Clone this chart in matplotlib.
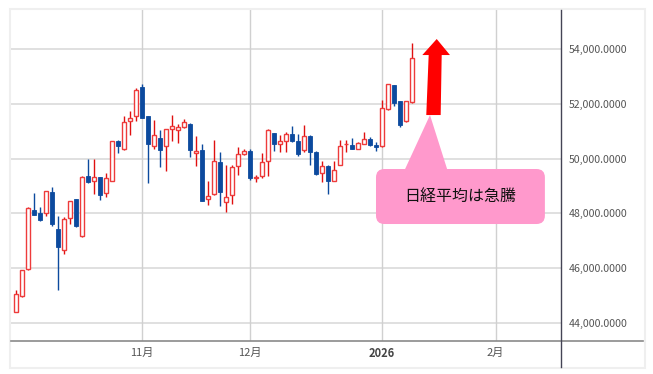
import numpy as np
import matplotlib
matplotlib.use('Agg')
import matplotlib.pyplot as plt
from matplotlib.patches import Polygon, FancyBboxPatch, Rectangle
from matplotlib.lines import Line2D

plt.rcParams['font.family'] = ['Noto Sans CJK JP', 'DejaVu Sans']

# daily candles (trading-day index 0 = first day shown)
opens = [44390, 44985, 45960, 48140, 48030, 48015, 48785, 47445, 46650, 47840,
         48515, 47165, 49350, 49200, 49320, 48755, 49200, 50640, 50360, 51375,
         51555, 52630, 51550, 50455, 50750, 50465, 51075, 51030, 51145, 51270,
         50205, 50330, 48510, 48715, 49890, 48430, 48675, 49745, 50170, 50290,
         49300, 49355, 49900, 50940, 50515, 50630, 50910, 50630, 50330, 50840,
         50245, 49475, 49745, 49170, 49755, 50525, 50490, 50350, 50545, 50715,
         50490, 50455, 51810, 52690, 52100, 51370, 52050]
highs = [45190, 45950, 48250, 48740, 48250, 48820, 48980, 47920, 47860, 48470,
         48540, 49350, 50000, 50000, 49330, 49490, 50640, 50680, 51545, 51730,
         52580, 52740, 51565, 51400, 51040, 51090, 51580, 51250, 51460, 51285,
         50810, 50545, 49195, 50665, 50235, 49760, 49760, 50420, 50345, 50355,
         49415, 50205, 51090, 50950, 50875, 50960, 51200, 50910, 51240, 50860,
         50270, 49900, 49760, 49900, 50670, 50670, 50755, 50590, 50975, 50800,
         50615, 52140, 52730, 52700, 52120, 52120, 54210]
lows = [44390, 44950, 45950, 47930, 47725, 47895, 47530, 45200, 46505, 47615,
        47520, 47140, 49110, 48690, 48480, 48595, 49200, 50205, 50300, 50850,
        51385, 51470, 49110, 50335, 49690, 49545, 50630, 50575, 51110, 50060,
        49725, 48465, 48290, 48655, 48285, 48045, 48340, 49415, 50120, 49210,
        49135, 49290, 49350, 50290, 50240, 50230, 50600, 50085, 50230, 49780,
        49415, 49135, 48720, 49170, 49755, 50230, 50350, 50340, 50530, 50465,
        50285, 50440, 51770, 51930, 51160, 51350, 52040]
closes = [45045, 45945, 48210, 47930, 47750, 48820, 47600, 46790, 47810, 48445,
          47530, 49320, 49145, 49320, 48660, 49300, 50625, 50450, 51325, 51465,
          52490, 51490, 50520, 50865, 50300, 51075, 51190, 51150, 51320, 50300,
          50290, 48470, 48620, 49930, 48785, 48600, 49690, 50170, 50290, 49300,
          49315, 49880, 51030, 50515, 50630, 50910, 50630, 50150, 50815, 50245,
          49455, 49720, 49170, 49600, 50450, 50550, 50365, 50560, 50730, 50490,
          50420, 51830, 52705, 52015, 51225, 52100, 53680]

month_pos = [21, 39, 61, 80]
month_labels = ['11月', '12月', '2026', '2月']
price_ticks = [44000, 46000, 48000, 50000, 52000, 54000]

# callout / arrow placement (index, price)
arrow_pts = [(68.43, 51590), (70.83, 51590), (71.0, 53780), (72.38, 53780),
             (70.17, 54365), (67.77, 53780), (68.83, 53780)]
tail_pts = [(64.9, 49620), (71.9, 49620), (69.05, 51590)]
box_x0, box_x1, box_y0, box_y1 = 60.05, 88.2, 47612, 49620
note = '日経平均は急騰'

RED = '#ee3b3b'
WICK_RED = '#e01010'
BLUE = '#0c4a9e'
PINK = '#ff99cc'

W, H = 653, 374
fig = plt.figure(figsize=(W / 100, H / 100), dpi=100)
fig.patch.set_facecolor('white')

ax = fig.add_axes([11 / W, 1 - 340.5 / H, 549.5 / W, 330.5 / H])
ax.set_facecolor('white')

o = np.array(opens)
h = np.array(highs)
l = np.array(lows)
c = np.array(closes)
x = np.arange(len(o))
up = c >= o

ax.vlines(x[up], l[up], h[up], colors=WICK_RED, lw=1.0, zorder=2)
ax.vlines(x[~up], l[~up], h[~up], colors=BLUE, lw=1.0, zorder=2)

bot = np.minimum(o, c)
hgt = np.maximum(np.abs(c - o), 25)
ax.bar(x[up], hgt[up], bottom=bot[up], width=0.7, facecolor='white',
       edgecolor=RED, lw=1.0, zorder=3)
ax.bar(x[~up], hgt[~up], bottom=bot[~up], width=0.7, facecolor=BLUE,
       edgecolor=BLUE, lw=0.6, zorder=3)

ax.set_xlim(-0.78, 90.8)
ax.set_ylim(43360, 55424)

for p in price_ticks:
    ax.axhline(p, color='#e0e0e0', lw=1.4, zorder=0)
for m in month_pos:
    ax.axvline(m, color='#d0d0d0', lw=1.0, zorder=0)

ax.set_xticks(month_pos)
ax.set_xticklabels(month_labels)
ax.set_yticks(price_ticks)
ax.set_yticklabels(['{:,.4f}'.format(p) for p in price_ticks])
ax.yaxis.tick_right()
ax.tick_params(axis='y', length=0, pad=6, labelsize=7.6, labelcolor='#555555')
ax.tick_params(axis='x', length=0, pad=5, labelsize=8, labelcolor='#555555')
for t in ax.get_xticklabels():
    if t.get_text() == '2026':
        t.set_fontweight('bold')
        t.set_color('#444444')
for s in ax.spines.values():
    s.set_visible(False)

# callout
ax.add_patch(Polygon(tail_pts, closed=True, fc=PINK, ec='none', zorder=5))
ax.add_patch(FancyBboxPatch((box_x0, box_y0), box_x1 - box_x0, box_y1 - box_y0,
                            boxstyle='round,pad=0,rounding_size=1.4',
                            mutation_aspect=219, fc=PINK, ec='none', zorder=5,
                            clip_on=False))
ax.text((box_x0 + box_x1) / 2, (box_y0 + box_y1) / 2, note, ha='center',
        va='center', fontsize=11.5, color='#111111', zorder=6)
ax.add_patch(Polygon(arrow_pts, closed=True, fc='#ff0000', ec='none', zorder=6))

# frame lines
fig.add_artist(Line2D([11 / W, 643 / W], [1 - 340.5 / H] * 2, color='#8a8a8a', lw=1.2))
fig.add_artist(Line2D([560.5 / W] * 2, [1 - 10 / H, 1 - 366.5 / H], color='#444455', lw=1.0))
fig.add_artist(Rectangle((10 / W, 1 - 368 / H), 635 / W, 359 / H, fill=False,
                         ec='#efefef', lw=1.5))

fig.savefig('out.png', dpi=100)
